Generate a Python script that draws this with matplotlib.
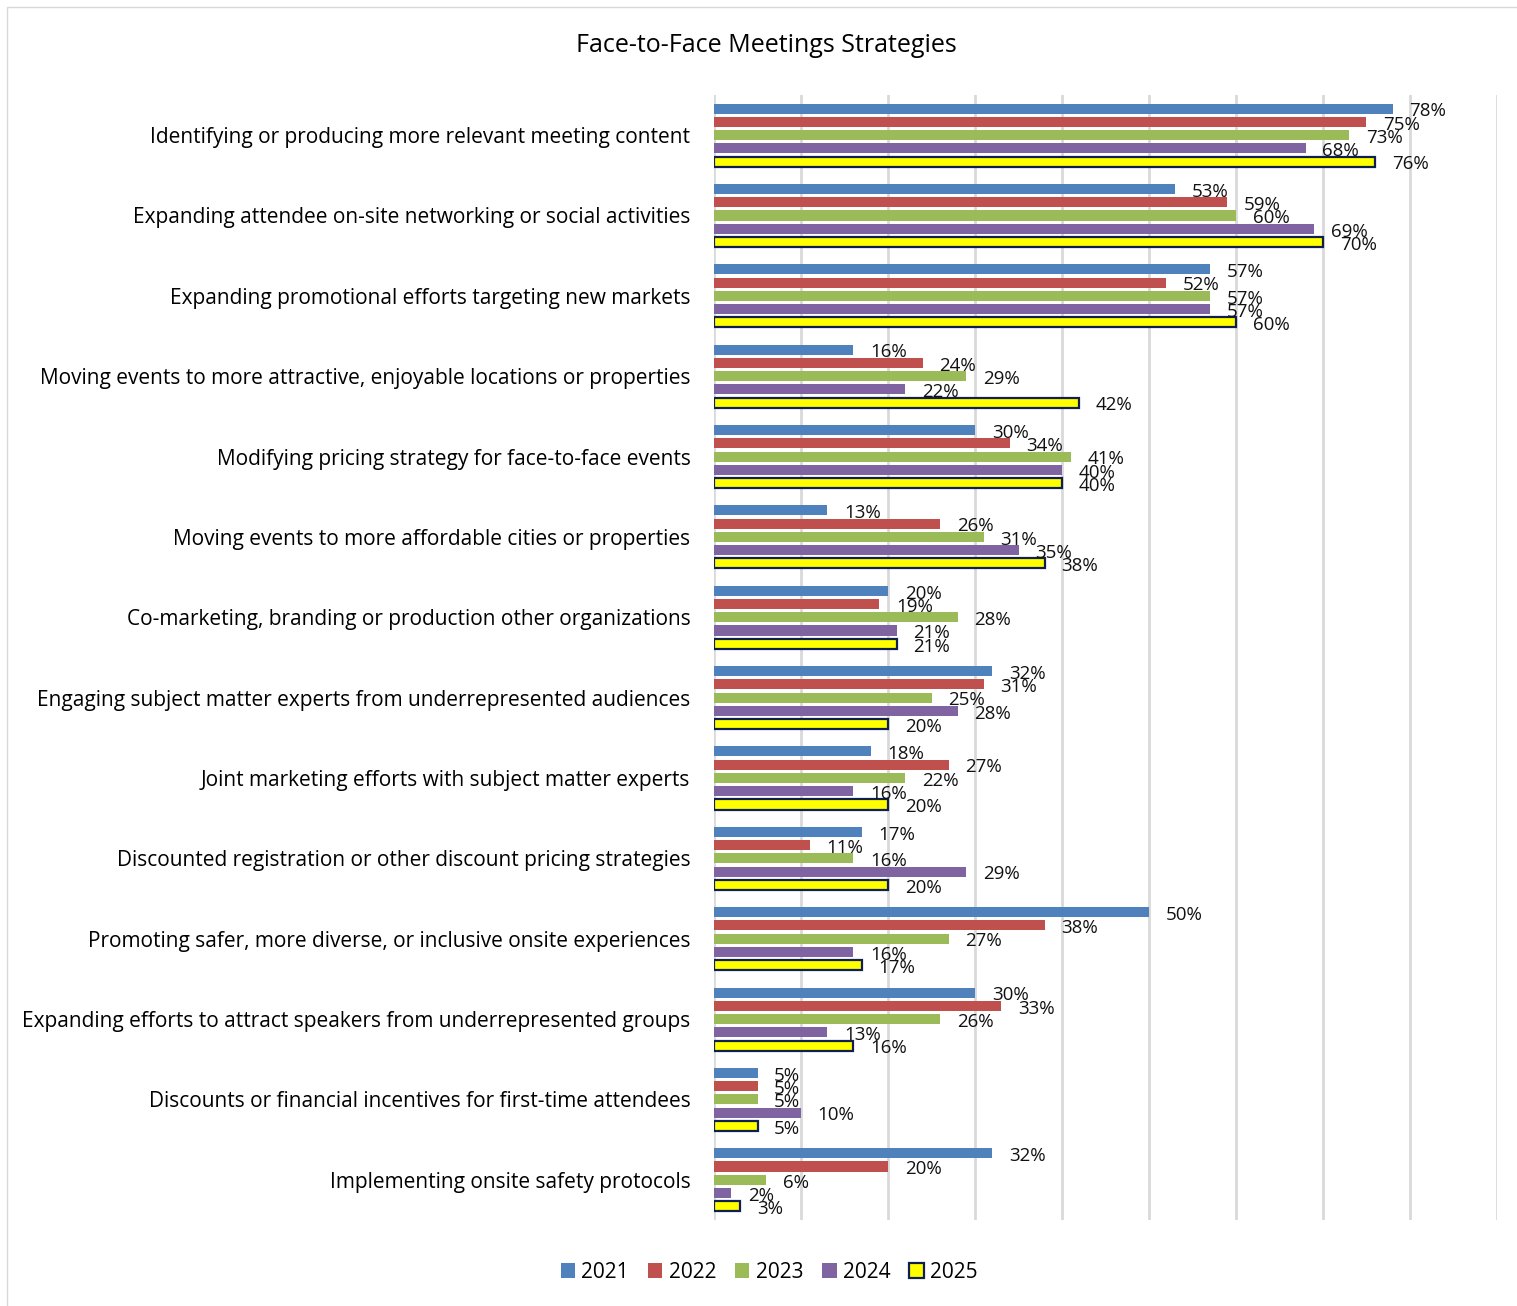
import matplotlib.pyplot as plt
import numpy as np
from matplotlib.patches import Rectangle

categories = [
    "Identifying or producing more relevant meeting content",
    "Expanding attendee on-site networking or social activities",
    "Expanding promotional efforts targeting new markets",
    "Moving events to more attractive, enjoyable locations or properties",
    "Modifying pricing strategy for face-to-face events",
    "Moving events to more affordable cities or properties",
    "Co-marketing, branding or production other organizations",
    "Engaging subject matter experts from underrepresented audiences",
    "Joint marketing efforts with subject matter experts",
    "Discounted registration or other discount pricing strategies",
    "Promoting safer, more diverse, or inclusive onsite experiences",
    "Expanding efforts to attract speakers from underrepresented groups",
    "Discounts or financial incentives for first-time attendees",
    "Implementing onsite safety protocols",
]
years = ["2021", "2022", "2023", "2024", "2025"]
v2021 = [78, 53, 57, 16, 30, 13, 20, 32, 18, 17, 50, 30, 5, 32]
v2022 = [75, 59, 52, 24, 34, 26, 19, 31, 27, 11, 38, 33, 5, 20]
v2023 = [73, 60, 57, 29, 41, 31, 28, 25, 22, 16, 27, 26, 5, 6]
v2024 = [68, 69, 57, 22, 40, 35, 21, 28, 16, 29, 16, 13, 10, 2]
v2025 = [76, 70, 60, 42, 40, 38, 21, 20, 20, 20, 17, 16, 5, 3]
series = [v2021, v2022, v2023, v2024, v2025]

colors = ["#4F81BD", "#C0504D", "#9BBB59", "#8064A2", "#FFFF00"]

plt.rcParams['font.family'] = ['Open Sans', 'DejaVu Sans']

fig = plt.figure(figsize=(15.17, 13.06), dpi=100)
ax = fig.add_axes([0.4707, 0.0659, 0.5161, 0.8614])

n = len(categories)
y = np.arange(n)
slot = 0.165
h = 0.125
for i, (vals, c) in enumerate(zip(series, colors)):
    pos = y + (i - 2) * slot
    if i == 4:
        ax.barh(pos, vals, height=h, color=c, edgecolor="#0F1F4F",
                linewidth=1.6, label=years[i], zorder=3)
    else:
        ax.barh(pos, vals, height=h, color=c, label=years[i], zorder=3)
    # etichete cu valorile (se suprapun si in original)
    for p, v in zip(pos, vals):
        ax.annotate(f"{v}%", (v, p), xytext=(12, -2), textcoords="offset points",
                    va="center", ha="left", fontsize=13.5, color="#111111", zorder=4)

ax.set_xlim(0, 90)
ax.set_ylim(n - 0.5, -0.5)
ax.set_xticks(np.arange(0, 91, 10))
ax.set_xticklabels([])
ax.tick_params(axis="x", length=0)
ax.set_yticks(y)
ax.set_yticklabels(categories, fontsize=15)
ax.tick_params(axis="y", length=0, pad=17)
ax.grid(axis="x", color="#D9D9D9", linewidth=2, zorder=0)
for s in ax.spines.values():
    s.set_visible(False)

fig.text(0.505, 0.965, "Face-to-Face Meetings Strategies", ha="center", va="center",
         fontsize=18)

handles, labels = ax.get_legend_handles_labels()
fig.legend(handles, labels, loc="center", bbox_to_anchor=(0.507, 0.026), ncol=5,
           frameon=False, fontsize=15, handlelength=0.7, handleheight=0.7,
           handletextpad=0.3, columnspacing=0.9)

fig.patches.append(Rectangle((0.0046, -0.01), 1.0, 1.0046, transform=fig.transFigure,
                             fill=False, edgecolor="#D9D9D9", linewidth=1))

fig.savefig("out.png", dpi=100)
